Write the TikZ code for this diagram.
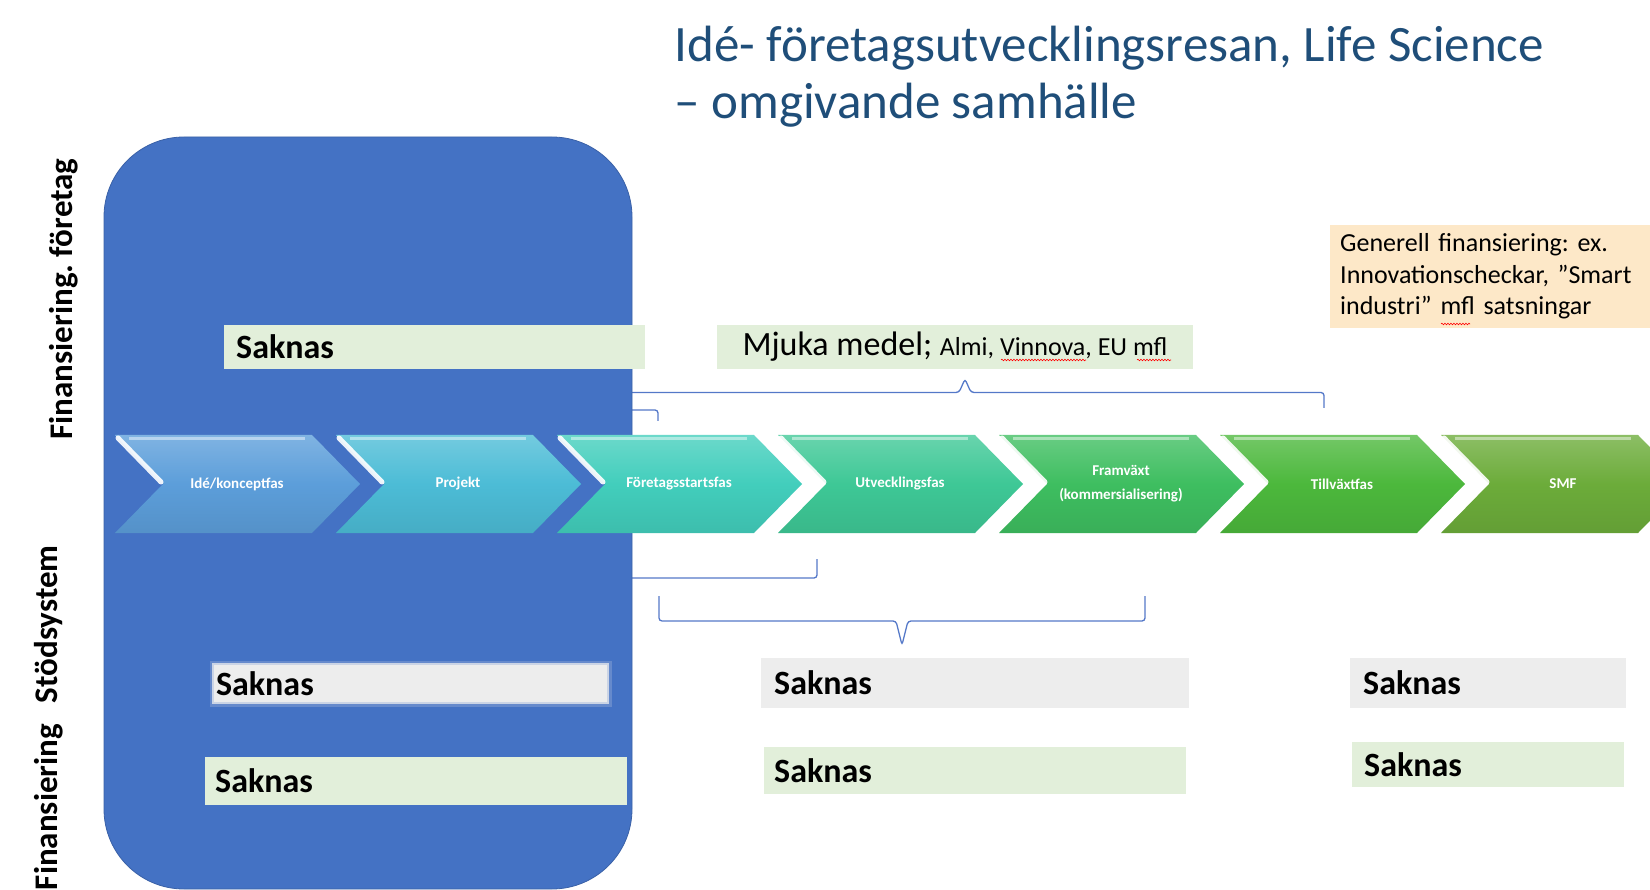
\documentclass[tikz,border=0pt]{standalone}
\usepackage{fontspec}
\setmainfont{Carlito}
\usetikzlibrary{calc,decorations.pathmorphing}

\definecolor{officeblue}{RGB}{68,114,196}
\definecolor{titleblue}{RGB}{31,78,121}
\definecolor{bracecol}{RGB}{84,120,200}
\definecolor{softgreen}{RGB}{226,239,218}
\definecolor{softgray}{RGB}{237,237,237}
\definecolor{softorange}{RGB}{253,232,200}
\definecolor{chA}{RGB}{92,158,218}
\definecolor{chB}{RGB}{76,188,214}
\definecolor{chC}{RGB}{66,206,188}
\definecolor{chD}{RGB}{62,200,150}
\definecolor{chE}{RGB}{62,190,96}
\definecolor{chF}{RGB}{76,184,60}
\definecolor{chG}{RGB}{108,172,58}

\begin{document}
\frenchspacing
\begin{tikzpicture}[x=1pt,y=-1pt,
  phase/.style={text=white,font=\fontsize{15}{24}\selectfont\bfseries,align=center},
  gapbox/.style={anchor=west,inner ysep=0pt,font=\fontsize{34}{40}\selectfont\bfseries},
  sidelabel/.style={rotate=90,font=\fontsize{33}{36}\selectfont\bfseries},
  bracket/.style={draw=bracecol,line width=1.3pt,rounded corners=3pt},
  glow/.style={preaction={draw=softgray!45!officeblue,line width=7pt,draw opacity=.45},
               draw=softgray!80!officeblue,line width=2pt},
  spell/.style={red,line width=.6pt,decorate,decoration={snake,segment length=3pt,amplitude=.8pt}}]
    \useasboundingbox (0,0) rectangle (1650,890);
    % klamrar
    \draw[bracket] (606,408) |- (959,392.5) -- (965,379) -- (971,392.5) -| (1324,408);
    \draw[bracket] (300,421) |- (473,410) -- (479,399) -- (485,410) -| (658,421);
    \draw[bracket] (200,559) |- (502,578) -- (508,597) -- (514,578) -| (817,559);
    \draw[bracket] (659,596) |- (896,621) -- (902,645) -- (908,621) -| (1145,596);
    % bakgrund
    \fill[officeblue,draw=officeblue!85!black,line width=.8pt,rounded corners=80] (104,137) rectangle (632,889);
    \node[sidelabel] (lblforetag) at (64,299) {Finansiering. företag};
    \node[sidelabel,anchor=east] (lblstod) at (49,542) {Finansiering\hspace{21pt}Stödsystem};
    % rutor
    \node[gapbox,fill=softgreen,text width=397,inner xsep=12,minimum height=44] (sak1) at (224,347) {Saknas};
    \node[fill=softgreen,minimum width=476,minimum height=44,inner sep=0pt] (mjuka) at (955,347)
        {\fontsize{34}{40}\selectfont Mjuka medel; {\fontsize{26}{30}\selectfont Almi, Vinnova, EU mfl}};
    \node[anchor=west,fill=softorange,text width=310,inner xsep=10,inner ysep=0pt,minimum height=103,align=left,
        font=\fontsize{26}{31.5}\selectfont] (generell) at (1330,276.5)
        {Generell finansiering: ex.\\Innovationscheckar, ”Smart\\industri” mfl satsningar};
    \draw[spell] (1001,360) -- (1086,360);
    \draw[spell] (1137,360) -- (1171,360);
    \draw[spell] (1441,324) -- (1470,324);
    \node[gapbox,fill=softgray,glow,text width=389,inner xsep=3,minimum height=39] (sak2) at (212,683.5) {Saknas};
    \node[gapbox,fill=softgreen,text width=402,inner xsep=10,minimum height=48] (sak3) at (205,781) {Saknas};
    \node[gapbox,fill=softgray,text width=402,inner xsep=13,minimum height=50] (sak4) at (761,683) {Saknas};
    \node[gapbox,fill=softgreen,text width=402,inner xsep=10,minimum height=47] (sak5) at (764,770.5) {Saknas};
    \node[gapbox,fill=softgray,text width=250,inner xsep=13,minimum height=50] (sak6) at (1350,683) {Saknas};
    \node[gapbox,fill=softgreen,text width=248,inner xsep=12,minimum height=45] (sak7) at (1352,764.5) {Saknas};
    % faser
    \foreach \i/\txt/\col in {0/{Idé/konceptfas}/chA, 1/Projekt/chB, 2/Företagsstartsfas/chC,
        3/Utvecklingsfas/chD, 4/{Framväxt\\(kommersialisering)}/chE, 5/Tillväxtfas/chF, 6/SMF/chG}
    {
    \begin{scope}[shift={(115+221*\i,0)}]
        \shade[top color=\col!78!white,bottom color=\col!92!black,middle color=\col]
            (0,435) -- (197,435) -- (245,484) -- (197,533) -- (0,533) -- (48,484) -- cycle;
        \draw[white,line width=5pt,opacity=.9,line cap=round] (3,438) -- (46,482);
        \draw[white,line width=3pt,opacity=.45] (14,439) -- (190,439);
        \node[phase] (ph\i) at (122,484) {\txt};
    \end{scope}
    }
    % rubrik
    \node[anchor=base west,text=titleblue,font=\fontsize{51}{54}\selectfont] (title1) at (671,62)
        {Idé- företagsutvecklingsresan, Life Science};
    \node[anchor=base west,text=titleblue,font=\fontsize{51}{54}\selectfont] (title2) at ($(title1.base west)+(0,57)$)
        {– omgivande samhälle};
\end{tikzpicture}
\end{document}
